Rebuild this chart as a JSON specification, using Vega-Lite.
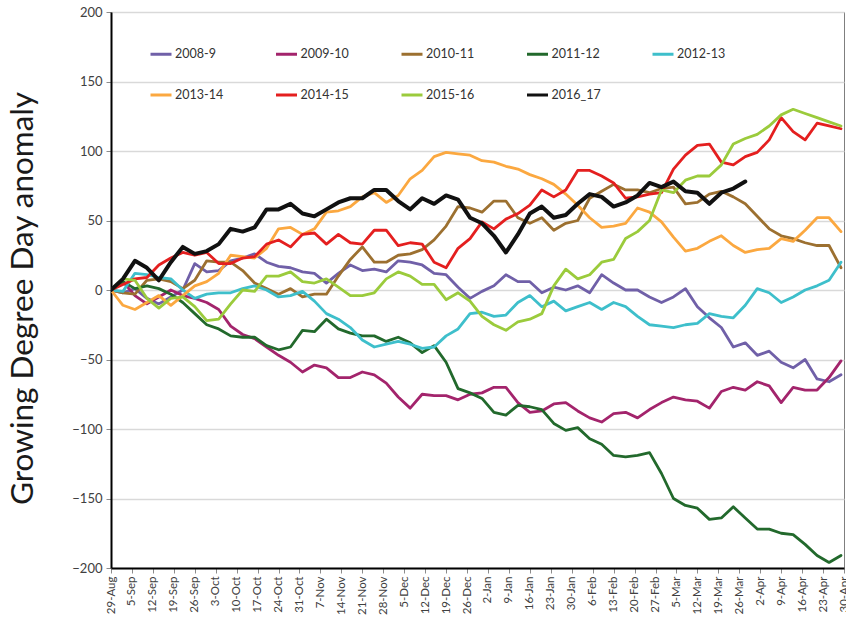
{
  "$schema": "https://vega.github.io/schema/vega-lite/v6.json",
  "width": 733,
  "height": 556,
  "autosize": {"type": "none"},
  "padding": {"left": 111, "top": 12, "right": 2, "bottom": 55},
  "background": "white",
  "config": {"font": "Lato", "view": {"stroke": "#7f7f7f", "strokeWidth": 1}},
  "data": {"values": [
    {"date":"2027-08-29","2008-9":0,"2009-10":0,"2010-11":0,"2011-12":0,"2012-13":0,"2013-14":0,"2014-15":0,"2015-16":0,"2016_17":0},
    {"date":"2027-09-02","2008-9":-2,"2009-10":6,"2010-11":-2,"2011-12":6,"2012-13":-1,"2013-14":-11,"2014-15":4,"2015-16":8,"2016_17":8},
    {"date":"2027-09-06","2008-9":1,"2009-10":-4,"2010-11":-3,"2011-12":1,"2012-13":12,"2013-14":-14,"2014-15":8,"2015-16":7,"2016_17":21},
    {"date":"2027-09-10","2008-9":-6,"2009-10":-10,"2010-11":7,"2011-12":3,"2012-13":11,"2013-14":-9,"2014-15":9,"2015-16":-6,"2016_17":16},
    {"date":"2027-09-14","2008-9":-10,"2009-10":-5,"2010-11":8,"2011-12":1,"2012-13":9,"2013-14":-4,"2014-15":18,"2015-16":-13,"2016_17":7},
    {"date":"2027-09-18","2008-9":-5,"2009-10":0,"2010-11":6,"2011-12":-3,"2012-13":8,"2013-14":-11,"2014-15":23,"2015-16":-6,"2016_17":20},
    {"date":"2027-09-22","2008-9":0,"2009-10":-4,"2010-11":1,"2011-12":-9,"2012-13":0,"2013-14":-4,"2014-15":27,"2015-16":-5,"2016_17":31},
    {"date":"2027-09-26","2008-9":19,"2009-10":-6,"2010-11":7,"2011-12":-17,"2012-13":-6,"2013-14":3,"2014-15":25,"2015-16":-12,"2016_17":26},
    {"date":"2027-09-30","2008-9":13,"2009-10":-9,"2010-11":21,"2011-12":-25,"2012-13":-3,"2013-14":6,"2014-15":27,"2015-16":-22,"2016_17":28},
    {"date":"2027-10-04","2008-9":14,"2009-10":-14,"2010-11":20,"2011-12":-28,"2012-13":-2,"2013-14":12,"2014-15":19,"2015-16":-21,"2016_17":33},
    {"date":"2027-10-08","2008-9":21,"2009-10":-26,"2010-11":20,"2011-12":-33,"2012-13":-2,"2013-14":25,"2014-15":19,"2015-16":-10,"2016_17":44},
    {"date":"2027-10-12","2008-9":23,"2009-10":-32,"2010-11":14,"2011-12":-34,"2012-13":1,"2013-14":24,"2014-15":23,"2015-16":0,"2016_17":42},
    {"date":"2027-10-16","2008-9":26,"2009-10":-35,"2010-11":5,"2011-12":-34,"2012-13":3,"2013-14":23,"2014-15":24,"2015-16":-1,"2016_17":45},
    {"date":"2027-10-20","2008-9":20,"2009-10":-41,"2010-11":1,"2011-12":-40,"2012-13":0,"2013-14":30,"2014-15":33,"2015-16":10,"2016_17":58},
    {"date":"2027-10-24","2008-9":17,"2009-10":-47,"2010-11":-3,"2011-12":-43,"2012-13":-5,"2013-14":44,"2014-15":36,"2015-16":10,"2016_17":58},
    {"date":"2027-10-28","2008-9":16,"2009-10":-52,"2010-11":1,"2011-12":-41,"2012-13":-4,"2013-14":45,"2014-15":31,"2015-16":13,"2016_17":62},
    {"date":"2027-11-01","2008-9":13,"2009-10":-59,"2010-11":-5,"2011-12":-29,"2012-13":-1,"2013-14":40,"2014-15":40,"2015-16":6,"2016_17":55},
    {"date":"2027-11-05","2008-9":12,"2009-10":-54,"2010-11":-3,"2011-12":-30,"2012-13":-8,"2013-14":44,"2014-15":41,"2015-16":5,"2016_17":53},
    {"date":"2027-11-09","2008-9":5,"2009-10":-56,"2010-11":-3,"2011-12":-21,"2012-13":-17,"2013-14":56,"2014-15":33,"2015-16":8,"2016_17":58},
    {"date":"2027-11-13","2008-9":12,"2009-10":-63,"2010-11":10,"2011-12":-28,"2012-13":-21,"2013-14":57,"2014-15":40,"2015-16":2,"2016_17":63},
    {"date":"2027-11-17","2008-9":18,"2009-10":-63,"2010-11":22,"2011-12":-31,"2012-13":-27,"2013-14":60,"2014-15":34,"2015-16":-4,"2016_17":66},
    {"date":"2027-11-21","2008-9":14,"2009-10":-59,"2010-11":31,"2011-12":-33,"2012-13":-36,"2013-14":67,"2014-15":33,"2015-16":-4,"2016_17":66},
    {"date":"2027-11-25","2008-9":15,"2009-10":-61,"2010-11":20,"2011-12":-33,"2012-13":-41,"2013-14":70,"2014-15":43,"2015-16":-2,"2016_17":72},
    {"date":"2027-11-29","2008-9":13,"2009-10":-67,"2010-11":20,"2011-12":-37,"2012-13":-39,"2013-14":63,"2014-15":43,"2015-16":8,"2016_17":72},
    {"date":"2027-12-03","2008-9":21,"2009-10":-77,"2010-11":25,"2011-12":-34,"2012-13":-37,"2013-14":68,"2014-15":32,"2015-16":13,"2016_17":64},
    {"date":"2027-12-07","2008-9":20,"2009-10":-85,"2010-11":26,"2011-12":-38,"2012-13":-39,"2013-14":80,"2014-15":34,"2015-16":10,"2016_17":58},
    {"date":"2027-12-11","2008-9":18,"2009-10":-75,"2010-11":29,"2011-12":-45,"2012-13":-42,"2013-14":86,"2014-15":33,"2015-16":4,"2016_17":66},
    {"date":"2027-12-15","2008-9":12,"2009-10":-76,"2010-11":36,"2011-12":-40,"2012-13":-41,"2013-14":96,"2014-15":20,"2015-16":4,"2016_17":62},
    {"date":"2027-12-19","2008-9":11,"2009-10":-76,"2010-11":46,"2011-12":-52,"2012-13":-33,"2013-14":99,"2014-15":16,"2015-16":-7,"2016_17":68},
    {"date":"2027-12-23","2008-9":2,"2009-10":-79,"2010-11":60,"2011-12":-71,"2012-13":-28,"2013-14":98,"2014-15":30,"2015-16":-2,"2016_17":65},
    {"date":"2027-12-27","2008-9":-6,"2009-10":-75,"2010-11":59,"2011-12":-74,"2012-13":-17,"2013-14":97,"2014-15":37,"2015-16":-8,"2016_17":52},
    {"date":"2027-12-31","2008-9":-1,"2009-10":-74,"2010-11":56,"2011-12":-78,"2012-13":-16,"2013-14":93,"2014-15":49,"2015-16":-19,"2016_17":48},
    {"date":"2028-01-04","2008-9":3,"2009-10":-70,"2010-11":64,"2011-12":-88,"2012-13":-19,"2013-14":92,"2014-15":44,"2015-16":-25,"2016_17":39},
    {"date":"2028-01-08","2008-9":11,"2009-10":-70,"2010-11":64,"2011-12":-90,"2012-13":-18,"2013-14":89,"2014-15":51,"2015-16":-29,"2016_17":27},
    {"date":"2028-01-12","2008-9":6,"2009-10":-81,"2010-11":52,"2011-12":-83,"2012-13":-9,"2013-14":87,"2014-15":55,"2015-16":-23,"2016_17":40},
    {"date":"2028-01-16","2008-9":6,"2009-10":-88,"2010-11":48,"2011-12":-84,"2012-13":-4,"2013-14":83,"2014-15":61,"2015-16":-21,"2016_17":55},
    {"date":"2028-01-20","2008-9":-2,"2009-10":-87,"2010-11":52,"2011-12":-86,"2012-13":-12,"2013-14":80,"2014-15":72,"2015-16":-17,"2016_17":60},
    {"date":"2028-01-24","2008-9":2,"2009-10":-82,"2010-11":43,"2011-12":-96,"2012-13":-8,"2013-14":76,"2014-15":67,"2015-16":3,"2016_17":52},
    {"date":"2028-01-28","2008-9":0,"2009-10":-81,"2010-11":48,"2011-12":-101,"2012-13":-15,"2013-14":69,"2014-15":72,"2015-16":15,"2016_17":54},
    {"date":"2028-02-01","2008-9":3,"2009-10":-87,"2010-11":50,"2011-12":-99,"2012-13":-12,"2013-14":61,"2014-15":86,"2015-16":8,"2016_17":62},
    {"date":"2028-02-05","2008-9":-2,"2009-10":-92,"2010-11":66,"2011-12":-107,"2012-13":-9,"2013-14":52,"2014-15":86,"2015-16":11,"2016_17":69},
    {"date":"2028-02-09","2008-9":11,"2009-10":-95,"2010-11":71,"2011-12":-111,"2012-13":-14,"2013-14":45,"2014-15":82,"2015-16":20,"2016_17":67},
    {"date":"2028-02-13","2008-9":5,"2009-10":-89,"2010-11":76,"2011-12":-119,"2012-13":-9,"2013-14":46,"2014-15":77,"2015-16":22,"2016_17":60},
    {"date":"2028-02-17","2008-9":0,"2009-10":-88,"2010-11":72,"2011-12":-120,"2012-13":-12,"2013-14":48,"2014-15":66,"2015-16":37,"2016_17":63},
    {"date":"2028-02-21","2008-9":0,"2009-10":-92,"2010-11":72,"2011-12":-119,"2012-13":-19,"2013-14":59,"2014-15":67,"2015-16":42,"2016_17":68},
    {"date":"2028-02-25","2008-9":-5,"2009-10":-86,"2010-11":70,"2011-12":-117,"2012-13":-25,"2013-14":56,"2014-15":69,"2015-16":50,"2016_17":77},
    {"date":"2028-02-29","2008-9":-9,"2009-10":-81,"2010-11":73,"2011-12":-132,"2012-13":-26,"2013-14":49,"2014-15":70,"2015-16":72,"2016_17":74},
    {"date":"2028-03-04","2008-9":-5,"2009-10":-77,"2010-11":74,"2011-12":-150,"2012-13":-27,"2013-14":38,"2014-15":87,"2015-16":70,"2016_17":78},
    {"date":"2028-03-08","2008-9":1,"2009-10":-79,"2010-11":62,"2011-12":-155,"2012-13":-25,"2013-14":28,"2014-15":97,"2015-16":79,"2016_17":71},
    {"date":"2028-03-12","2008-9":-12,"2009-10":-80,"2010-11":63,"2011-12":-157,"2012-13":-24,"2013-14":30,"2014-15":104,"2015-16":82,"2016_17":70},
    {"date":"2028-03-16","2008-9":-20,"2009-10":-85,"2010-11":69,"2011-12":-165,"2012-13":-17,"2013-14":35,"2014-15":105,"2015-16":82,"2016_17":62},
    {"date":"2028-03-20","2008-9":-27,"2009-10":-73,"2010-11":71,"2011-12":-164,"2012-13":-19,"2013-14":39,"2014-15":92,"2015-16":90,"2016_17":70},
    {"date":"2028-03-24","2008-9":-41,"2009-10":-70,"2010-11":67,"2011-12":-156,"2012-13":-20,"2013-14":32,"2014-15":90,"2015-16":105,"2016_17":73},
    {"date":"2028-03-28","2008-9":-38,"2009-10":-72,"2010-11":62,"2011-12":-164,"2012-13":-11,"2013-14":27,"2014-15":96,"2015-16":109,"2016_17":78},
    {"date":"2028-04-01","2008-9":-47,"2009-10":-66,"2010-11":53,"2011-12":-172,"2012-13":1,"2013-14":29,"2014-15":99,"2015-16":112},
    {"date":"2028-04-05","2008-9":-44,"2009-10":-69,"2010-11":44,"2011-12":-172,"2012-13":-2,"2013-14":30,"2014-15":108,"2015-16":118},
    {"date":"2028-04-09","2008-9":-52,"2009-10":-81,"2010-11":39,"2011-12":-175,"2012-13":-9,"2013-14":37,"2014-15":124,"2015-16":126},
    {"date":"2028-04-13","2008-9":-56,"2009-10":-70,"2010-11":37,"2011-12":-176,"2012-13":-5,"2013-14":35,"2014-15":114,"2015-16":130},
    {"date":"2028-04-17","2008-9":-50,"2009-10":-72,"2010-11":34,"2011-12":-183,"2012-13":0,"2013-14":43,"2014-15":108,"2015-16":127},
    {"date":"2028-04-21","2008-9":-64,"2009-10":-72,"2010-11":32,"2011-12":-191,"2012-13":3,"2013-14":52,"2014-15":120,"2015-16":124},
    {"date":"2028-04-25","2008-9":-66,"2009-10":-63,"2010-11":32,"2011-12":-196,"2012-13":7,"2013-14":52,"2014-15":118,"2015-16":121},
    {"date":"2028-04-29","2008-9":-61,"2009-10":-51,"2010-11":16,"2011-12":-191,"2012-13":20,"2013-14":42,"2014-15":116,"2015-16":118}
  ]},
  "transform": [
    {"fold": ["2008-9","2009-10","2010-11","2011-12","2012-13","2013-14","2014-15","2015-16","2016_17"], "as": ["season","gdd"]}
  ],
  "mark": {"type": "line", "strokeJoin": "round", "strokeCap": "round", "clip": true},
  "encoding": {
    "x": {
      "field": "date", "type": "temporal",
      "scale": {"type": "utc", "nice": false, "domain": [{"year": 2027, "month": 8, "date": 29, "utc": true}, {"year": 2028, "month": 4, "date": 30, "utc": true}]},
      "axis": {"title": null, "format": "%-d-%b", "labelAngle": -90, "tickCount": {"interval": "week", "step": 1}, "grid": false,
               "domainColor": "#000000", "domainWidth": 2, "tickColor": "#8c8c8c", "tickSize": 5, "labelFontSize": 11.5,
               "labelColor": "#404040", "labelPadding": 3, "labelOverlap": false, "labelFlush": false, "labelBound": false}
    },
    "y": {
      "field": "gdd", "type": "quantitative",
      "scale": {"domain": [-200, 200], "nice": false, "zero": false},
      "axis": {"values": [-200,-150,-100,-50,0,50,100,150,200], "title": "Growing Degree Day anomaly",
               "titleFontSize": 31.5, "titleFontWeight": "normal", "titleColor": "#1a1a1a", "titleX": -72, "titleY": 286,
               "grid": true, "gridColor": "#d9d9d9", "gridWidth": 1.5, "domainColor": "#000000", "domainWidth": 2,
               "tickColor": "#8c8c8c", "tickSize": 5, "labelFontSize": 13, "labelColor": "#404040", "labelPadding": 4}
    },
    "color": {
      "field": "season", "type": "nominal",
      "scale": {"domain": ["2008-9","2009-10","2010-11","2011-12","2012-13","2013-14","2014-15","2015-16","2016_17"],
                "range": ["#7060A8","#A3246C","#9C7030","#22692C","#3EBFCB","#FBA840","#E41F1F","#9BCB3C","#111111"]},
      "legend": {"orient": "none", "legendX": 38, "legendY": 30, "direction": "horizontal", "columns": 5, "title": null,
                 "symbolType": "stroke", "symbolSize": 441, "symbolStrokeWidth": 3, "labelFontSize": 12.5, "labelColor": "#333333",
                 "labelOffset": 2, "columnPadding": 44.5, "rowPadding": 22, "gridAlign": "all", "padding": 0}
    },
    "strokeWidth": {"condition": {"test": "datum.season === '2016_17'", "value": 4}, "value": 2.8}
  }
}
